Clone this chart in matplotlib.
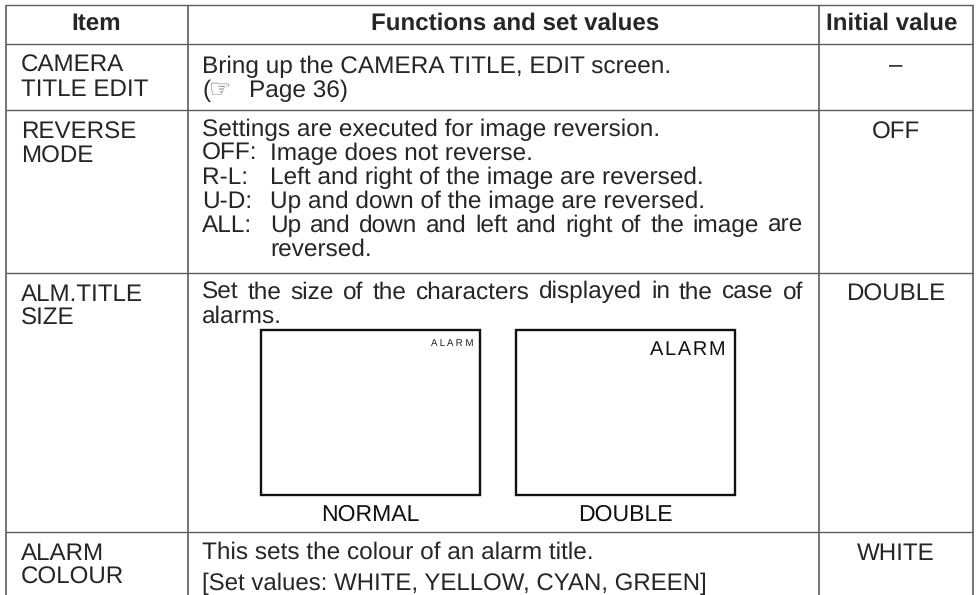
import matplotlib
matplotlib.use("Agg")
from matplotlib import pyplot as plt
from matplotlib.patches import Rectangle

headers = ['Item', 'Functions and set values', 'Initial value']
items = [['CAMERA', 'TITLE EDIT'], ['REVERSE', 'MODE'], ['ALM.TITLE', 'SIZE'], ['ALARM', 'COLOUR']]
initial_values = ['–', 'OFF', 'DOUBLE', 'WHITE']
camera_lines = ['Bring up the CAMERA TITLE, EDIT screen.', 'Page 36)']
reverse_intro = 'Settings are executed for image reversion.'
reverse_keys = ['OFF:', 'R-L:', 'U-D:', 'ALL:']
reverse_text = ['Image does not reverse.',
                'Left and right of the image are reversed.',
                'Up and down of the image are reversed.',
                'Up and down and left and right of the image are',
                'reversed.']
size_lines = ['Set the size of the characters displayed in the case of', 'alarms.']
screen_labels = ['NORMAL', 'DOUBLE']
colour_lines = ['This sets the colour of an alarm title.',
                '[Set values: WHITE, YELLOW, CYAN, GREEN]']

plt.rcParams['text.hinting'] = 'none'
plt.rcParams['text.hinting_factor'] = 8

FONT = 'Liberation Sans'
SIZE = 17.4
BODY = 17.6
INK = '#262626'
GRID = '#5c5c5c'

fig = plt.figure(figsize=(9.78, 5.95), dpi=100)
ax = fig.add_axes([0, 0, 1, 1])
ax.set_xlim(0, 978)
ax.set_ylim(595, 0)
ax.axis('off')


def put(x, y, s, ha='left', size=BODY, weight='normal', color=INK, family=FONT):
    return ax.text(x, y, s, ha=ha, va='baseline', fontsize=size, fontweight=weight,
                   color=color, family=family)


def put_justified(x0, x1, y, s):
    # spread the words so the line fills x0..x1
    words = s.split(' ')
    rend = fig.canvas.get_renderer()
    inv = ax.transData.inverted()
    labels = [put(x0, y, w) for w in words]
    widths = []
    for t in labels:
        bb = t.get_window_extent(rend)
        widths.append(inv.transform((bb.x1, 0))[0] - inv.transform((bb.x0, 0))[0])
    gap = (x1 - x0 - sum(widths)) / (len(words) - 1)
    x = x0
    for t, w in zip(labels, widths):
        t.set_x(x)
        x += w + gap


# grid
col_x = [6, 187.5, 819, 973]
row_y = [5, 44, 110, 272.5, 531.5]
for y in row_y:
    ax.plot([col_x[0], col_x[-1]], [y, y], color=GRID, lw=1.0, solid_capstyle='butt')
for x in col_x:
    ax.plot([x, x], [row_y[0], 595], color=GRID, lw=1.2, solid_capstyle='butt')

# header
for x, s in zip([95.7, 515.4, 891.7], headers):
    put(x, 30, s, ha='center', size=SIZE, weight='bold')

# first column
for lines, ys in zip(items, [[72, 96], [138.5, 162.5], [301, 325], [560, 583.5]]):
    for y, s in zip(ys, lines):
        put(21, y, s, size=SIZE)

# last column
for s, y in zip(initial_values, [72, 138.5, 301, 560]):
    put(895.7, y, s, ha='center', size=SIZE)

# camera title row
put(202, 72.7, camera_lines[0])
put(202, 96.7, '(')
put(209, 97, '\u261e', size=18, color='#666666', family='DejaVu Sans')
put(249, 96.7, camera_lines[1])

# reverse mode row
put(202, 136, reverse_intro)
key_y = [160, 184, 207.7, 231.7]
for y, s in zip(key_y, reverse_keys):
    put(202, y, s)
for y, s in zip(key_y[:3], reverse_text[:3]):
    put(270, y, s)
put_justified(270, 803, key_y[3], reverse_text[3])
put(270, 255.7, reverse_text[4])

# alarm size row
put_justified(202, 803, 298.3, size_lines[0])
put(202, 322.3, size_lines[1])
for x in [261, 516]:
    ax.add_patch(Rectangle((x, 329.5), 219, 165.5, fill=False, ec='#111111', lw=1.7))
put(473.5, 346, 'A L A R M', ha='right', size=7, color='#222222')
put(725.5, 355, 'A L A R M'.replace(' ', '\u200a'), ha='right', size=14.4, color='#111111')
for x, s in zip([370, 625.5], screen_labels):
    put(x, 521, s, ha='center', size=16.6, color='#111111')

# alarm colour row
put(202, 558.3, colour_lines[0])
put(202, 590, colour_lines[1], size=17.3)

fig.savefig('out.png', dpi=100)
